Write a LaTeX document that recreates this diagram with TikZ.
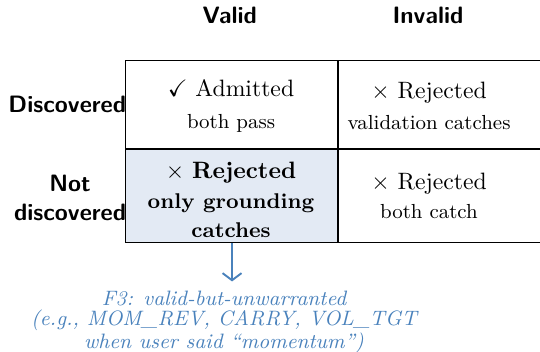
\documentclass[tikz,border=0pt]{standalone}
\usepackage{amsmath,amssymb}
\usepackage{tikz}
\usetikzlibrary{positioning, arrows.meta}

\definecolor{gndfill}{RGB}{227,234,244}
\definecolor{noteblue}{RGB}{74,130,188}
\newcommand{\subtxt}{\fontsize{8.6pt}{10.5pt}\selectfont}

\begin{document}
\begin{tikzpicture}[
    cell/.style={draw, rectangle, minimum width=3.147cm, align=center},
    collab/.style={font=\sffamily\bfseries},
    rowlab/.style={font=\sffamily\bfseries, align=center, anchor=east, inner sep=0pt},
    notetext/.style={font=\fontsize{8.8pt}{8.5pt}\selectfont\itshape, text=noteblue, align=center},
    ]
    \useasboundingbox (0,0) rectangle (8.015,-5.210);

    % the four cells
    \node[cell, minimum height=1.306cm] (vd) at (3.429,-1.544)
        {\rule{0pt}{9pt}$\checkmark$ Admitted\\[1.5pt]{\subtxt both pass}};
    \node[cell, minimum height=1.395cm, inner ysep=1pt, fill=gndfill, below=0pt of vd] (vn)
        {\rule{0pt}{10pt}$\times$ \textbf{Rejected}\\[1pt]{\small\bfseries only grounding}\\{\small\bfseries catches}};
    \node[cell, minimum height=1.306cm, minimum width=3.31cm, right=0pt of vd,
        label={[xshift=-0.304cm, yshift=-0.03cm, align=center]center:{$\times$ Rejected\\[1pt]{\subtxt validation catches}}}] (id) {};
    \node[cell, minimum height=1.395cm, minimum width=3.31cm, below=0pt of id,
        label={[xshift=-0.304cm, align=center]center:{$\times$ Rejected\\{\subtxt both catch}}}] (in) {};

    % headers
    \node[collab] (valid) at (3.41,-0.223) {Valid};
    \node[collab] (invalid) at (6.353,-0.223) {Invalid};
    \node[rowlab] (disc) at ([xshift=0.03cm]vd.west) {Discovered};
    \node[rowlab] (notdisc) at ([xshift=0.03cm,yshift=-0.03cm]vn.west) {Not\\discovered};

    % failure mode F3
    \coordinate (tip) at ([xshift=0.015cm,yshift=-0.564cm]vn.south);
    \draw[-{Straight Barb[length=3pt,width=8pt]}, noteblue, line width=0.8pt]
        ([xshift=0.015cm]vn.south) -- (tip);
    \node[notetext, anchor=north] (f3) at (3.325,-4.19)
        {F3: valid-but-unwarranted\\(e.g., MOM\_REV, CARRY, VOL\_TGT\\when user said ``momentum'')};
\end{tikzpicture}
\end{document}
